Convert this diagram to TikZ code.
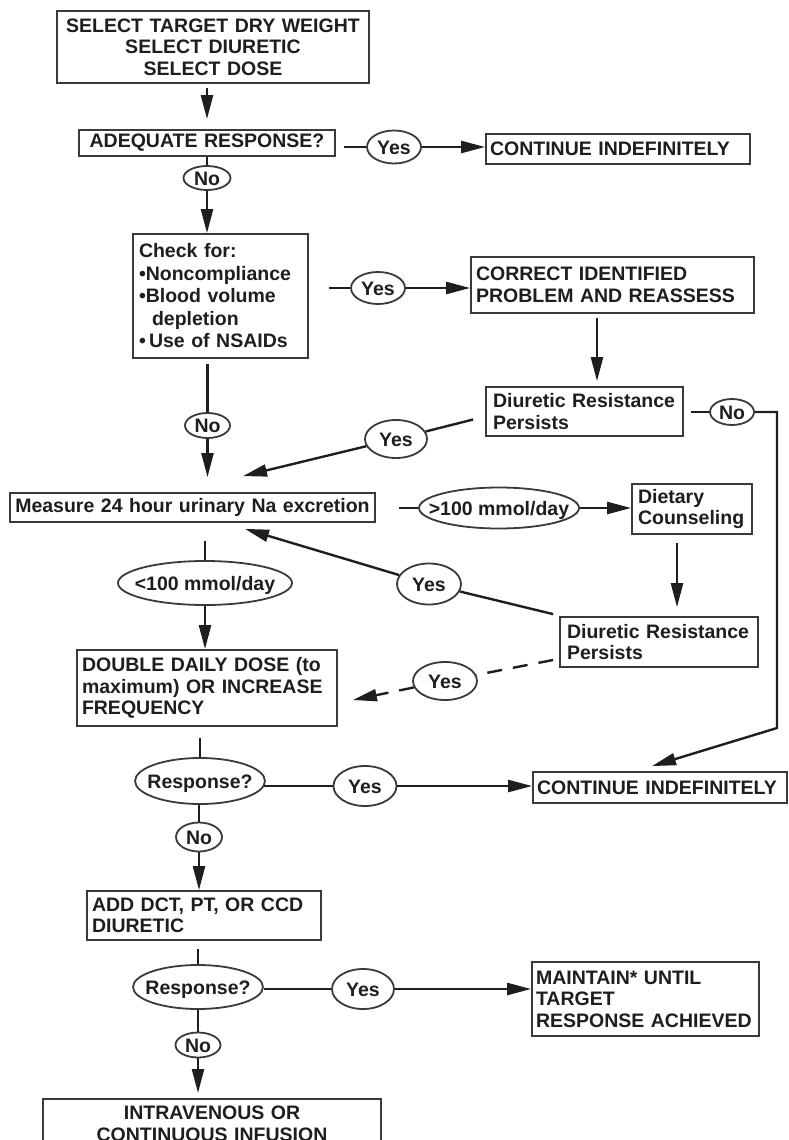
\documentclass[tikz,border=0pt]{standalone}
\usepackage{fontspec}
\setmainfont{Liberation Sans}
\usetikzlibrary{shapes.geometric,arrows.meta,calc}
\definecolor{ink}{HTML}{1E1E1E}
\definecolor{edge}{HTML}{3A3A3A}
\newcommand{\ovtext}[1]{\raisebox{-0.36em}[0pt][0pt]{\makebox[0pt]{#1}}}
\begin{document}
\begin{tikzpicture}[x=1pt,y=-1pt,
  every node/.style={font=\bfseries\fontsize{19.5}{21.5}\selectfont, text=ink},
  bx/.style={draw=edge, line width=1.8pt, fill=white, rectangle, inner xsep=5pt, inner ysep=0pt, align=left},
  ov/.style={draw=edge, line width=1.8pt, fill=white, ellipse, inner sep=0pt},
  conn/.style={draw=ink, line width=2.4pt},
  arr/.style={conn, -{Triangle[length=24pt,width=12pt]}},
  dsh/.style={dash pattern=on 15pt off 11pt}
]
\useasboundingbox (0,0) rectangle (788,1140);
\clip (0,0) rectangle (788,1140);

% nodes
\node[bx, align=center, text width=302pt, minimum height=72pt] (top) at (213,47) {SELECT TARGET DRY WEIGHT\\SELECT DIURETIC\\SELECT DOSE};
\node[bx, align=center, text width=246pt, minimum height=26pt] (adeq) at (207,143) {ADEQUATE RESPONSE?};
\node[ov, minimum width=54pt, minimum height=33pt] (yes1) at (394,147) {\ovtext{Yes}};
\node[bx, inner xsep=4pt, text width=256pt, minimum height=30pt] (cont1) at (618,149) {CONTINUE INDEFINITELY};
\node[ov, minimum width=47pt, minimum height=24pt] (no1) at (207,178) {\ovtext{No}};
\node[bx, inner xsep=6pt, text width=163pt, minimum height=124pt, font=\bfseries\fontsize{19.5}{22.5}\selectfont] (check) at (220.5,296) {Check for:\\•Noncompliance\\•Blood volume\\\hspace*{13pt}depletion\\•\,Use of NSAIDs};
\node[ov, minimum width=54pt, minimum height=32pt] (yes2) at (378,288) {\ovtext{Yes}};
\node[bx, text width=273pt, minimum height=56pt] (correct) at (612.5,285) {CORRECT IDENTIFIED\\PROBLEM AND REASSESS};
\node[bx, inner xsep=7pt, text width=183pt, minimum height=49pt] (dr1) at (584.5,411.5) {Diuretic Resistance\\Persists};
\node[ov, minimum width=44pt, minimum height=26pt] (no2) at (732,412) {\ovtext{No}};
\node[ov, minimum width=45pt, minimum height=25pt] (nomeas) at (207.5,425.5) {\ovtext{No}};
\node[ov, minimum width=62pt, minimum height=38pt] (yes3) at (396,439) {\ovtext{Yes}};
\node[bx, align=center, inner xsep=4pt, text width=357pt, minimum height=29pt] (meas) at (192.5,507.5) {Measure 24 hour urinary Na excretion};
\node[ov, minimum width=160pt, minimum height=41pt] (gt) at (499,508) {\ovtext{>100 mmol/day}};
\node[bx, inner xsep=6pt, text width=108pt, minimum height=50pt] (diet) at (692,509) {Dietary\\Counseling};
\node[bx, inner xsep=7pt, text width=184pt, minimum height=50pt] (dr2) at (659,642) {Diuretic Resistance\\Persists};
\node[ov, minimum width=64pt, minimum height=41pt] (yes4) at (429,584) {\ovtext{Yes}};
\node[ov, minimum width=174pt, minimum height=44pt] (lt) at (205,583) {\ovtext{<100 mmol/day}};
\node[bx, text width=250pt, minimum height=76pt] (double) at (207,688) {DOUBLE DAILY DOSE (to\\maximum) OR INCREASE\\FREQUENCY};
\node[ov, minimum width=64pt, minimum height=38pt] (yes5) at (445,681) {\ovtext{Yes}};
\node[ov, minimum width=130pt, minimum height=46pt] (resp1) at (200,781) {\ovtext{Response?}};
\node[ov, minimum width=63pt, minimum height=40pt] (yes6) at (365,786) {\ovtext{Yes}};
\node[bx, inner xsep=4pt, text width=246pt, minimum height=31pt] (cont2) at (660,787.5) {CONTINUE INDEFINITELY};
\node[ov, minimum width=46pt, minimum height=29pt] (no3) at (199,837) {\ovtext{No}};
\node[bx, text width=224pt, minimum height=49pt] (add) at (204,915.5) {ADD DCT, PT, OR CCD\\DIURETIC};
\node[ov, minimum width=130pt, minimum height=44pt] (resp2) at (198,987) {\ovtext{Response?}};
\node[ov, minimum width=62pt, minimum height=40pt] (yes7) at (363,989) {\ovtext{Yes}};
\node[bx, inner xsep=4pt, text width=219pt, minimum height=74pt] (maintain) at (645.5,999) {MAINTAIN* UNTIL\\TARGET\\RESPONSE ACHIEVED};
\node[ov, minimum width=45pt, minimum height=25pt] (no4) at (198,1045) {\ovtext{No}};
\node[bx, align=center, anchor=north, inner ysep=7pt, text width=328pt] (iv) at (212,1098) {INTRAVENOUS OR\\CONTINUOUS INFUSION};

\coordinate (k1) at (777,412);
\coordinate (k2) at (777,728);

% connectors
\draw[arr, shorten <=4pt, shorten >=10pt] (top.south -| adeq.north) -- (adeq.north);
\draw[conn] (adeq.south) -- (no1.north);
\draw[arr] (no1.south) -- (no1.south |- check.north);
\draw[conn, shorten <=8pt] (yes1.west -| adeq.east) -- (yes1.west);
\draw[arr] (yes1.east) -- (yes1.east -| cont1.west);
\draw[conn, shorten <=20pt] (yes2.west -| check.east) -- (yes2.west);
\draw[arr] (yes2.east) -- (yes2.east -| correct.west);
\draw[arr, shorten <=4pt, shorten >=5pt] ([xshift=-15.5pt]correct.south) -- ([xshift=12.5pt]dr1.north);
\draw[conn, shorten <=5pt] (nomeas.north |- check.south) -- (nomeas.north);
\draw[arr, shorten >=15pt] (nomeas.south) -- (nomeas.south |- meas.north);
\draw[conn, shorten <=7pt] (no2.west -| dr1.east) -- (no2.west);
\draw[arr, line join=miter] (no2.east) -- (k1) -- (k2) -- ($(cont2.north)+(-8,-5)$);
\draw[conn] ($(dr1.west)+(-12,8)$) -- (yes3);
\draw[arr] (yes3) -- ($(meas.north)+(50.5,-16)$);
\draw[conn, shorten <=23pt] (gt.west -| meas.east) -- (gt.west);
\draw[arr] (gt.east) -- (gt.east -| diet.west);
\draw[arr, shorten <=8pt, shorten >=9pt] ([xshift=-15pt]diet.south) -- ([xshift=-15pt]diet.south |- dr2.north);
\draw[conn] ($(dr2.north west)+(-6,-2)$) -- (yes4);
\draw[arr] (yes4) -- ($(meas.south)+(52.5,6)$);
\draw[conn, dsh] ($(dr2.west)+(-6,18)$) -- (yes5);
\draw[arr, dsh] (yes5) -- ($(double.east)+(15,12)$);
\draw[conn, shorten <=18pt] (lt.north |- meas.south) -- (lt.north);
\draw[arr] (lt.south) -- (lt.south |- double.north);
\draw[conn, shorten <=11pt] (resp1.north |- double.south) -- (resp1.north);
\draw[conn] ($(resp1.east |- yes6.west)+(-2,0)$) -- (yes6.west);
\draw[arr] (yes6.east) -- (yes6.east -| cont2.west);
\draw[conn] (no3.north |- resp1.south) -- (no3.north);
\draw[arr] (no3.south) -- (no3.south |- add.north);
\draw[conn, shorten <=8pt] (resp2.north |- add.south) -- (resp2.north);
\draw[conn] (yes7.west -| resp2.east) -- (yes7.west);
\draw[arr] (yes7.east) -- (yes7.east -| maintain.west);
\draw[conn] (resp2.south) -- (no4.north);
\draw[arr, shorten >=5pt] (no4.south) -- (no4.south |- iv.north);
\end{tikzpicture}
\end{document}
